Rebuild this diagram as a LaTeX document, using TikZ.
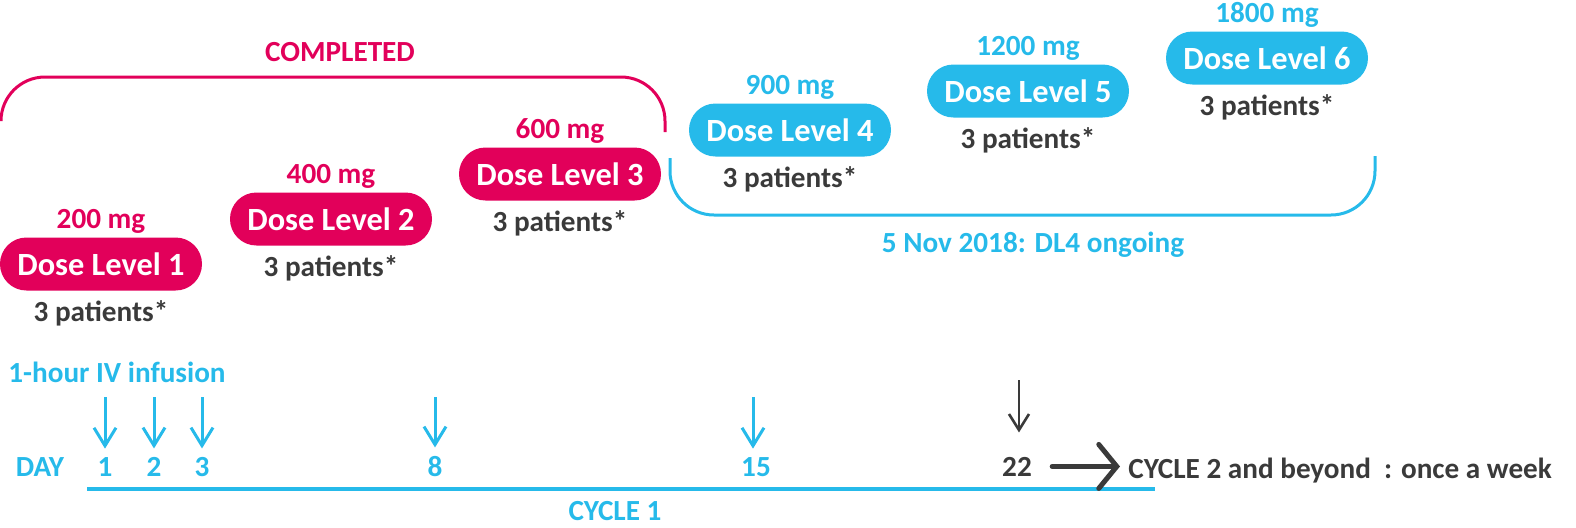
\documentclass[tikz,border=0pt]{standalone}
\usepackage{fontspec}
\setmainfont{Carlito}
\usetikzlibrary{arrows.meta, positioning}
\definecolor{donecolor}{RGB}{226,0,90}
\definecolor{opencolor}{RGB}{38,186,234}
\definecolor{textcolor}{RGB}{58,58,58}
\tikzstyle{donepill} = [rectangle, fill=donecolor, text=white, minimum width=101pt, minimum height=26.5pt, rounded corners=13.2pt, inner sep=0pt, font=\fontsize{16.2}{18}\selectfont\bfseries]
\tikzstyle{openpill} = [donepill, fill=opencolor]
\tikzstyle{plaintext} = [inner sep=0pt, font=\fontsize{14.6}{16}\selectfont\bfseries]
\tikzstyle{infarrow} = [-{Straight Barb[length=9pt, width=11pt]}, opencolor, line width=1.5pt]
\tikzstyle{nextarrow} = [-{Straight Barb[length=8pt, width=10pt]}, textcolor, line width=1.3pt]
\tikzstyle{bigarrow} = [-{Straight Barb[length=9pt, width=22pt, line cap=round]}, textcolor, line width=2.5pt, line cap=round]

\begin{document}
\begin{tikzpicture}[x=0.5pt, y=-0.5pt]
    \useasboundingbox (0,0) rectangle (1576,527);

    % Completed dose levels
    \node[plaintext, donecolor, anchor=base] (done_title) at (340,61) {COMPLETED};
    \draw[donecolor, line width=1.5pt, rounded corners=22pt] (1,118) -- (1,77) -- (665,77) -- (665,132);

    \node[donepill] (dl1) at (101,264) {Dose Level 1};
    \node[donepill] (dl2) at (331,219) {Dose Level 2};
    \node[donepill] (dl3) at (560,174) {Dose Level 3};

    \node[plaintext, donecolor, above=1.5pt of dl1] (mg1) {200 mg};
    \node[plaintext, donecolor, above=1.5pt of dl2] (mg2) {400 mg};
    \node[plaintext, donecolor, above=1.5pt of dl3] (mg3) {600 mg};
    \node[plaintext, textcolor, below=4.5pt of dl1] (pat1) {3 patients*};
    \node[plaintext, textcolor, below=4.5pt of dl2] (pat2) {3 patients*};
    \node[plaintext, textcolor, below=4.5pt of dl3] (pat3) {3 patients*};

    % Ongoing dose levels
    \draw[opencolor, line width=1.5pt, rounded corners=22pt] (670,158) -- (670,215) -- (1375,215) -- (1375,156);
    \node[plaintext, opencolor, anchor=base] (open_title) at (1033,252) {5 Nov 2018: DL4 ongoing};

    \node[openpill] (dl4) at (790,130) {Dose Level 4};
    \node[openpill] (dl5) at (1028,91) {Dose Level 5};
    \node[openpill] (dl6) at (1267,58) {Dose Level 6};

    \node[plaintext, opencolor, above=1.5pt of dl4] (mg4) {900 mg};
    \node[plaintext, opencolor, above=1.5pt of dl5] (mg5) {1200 mg};
    \node[plaintext, opencolor, above=1.5pt of dl6] (mg6) {1800 mg};
    \node[plaintext, textcolor, below=4.5pt of dl4] (pat4) {3 patients*};
    \node[plaintext, textcolor, below=4.5pt of dl5] (pat5) {3 patients*};
    \node[plaintext, textcolor, below=4.5pt of dl6] (pat6) {3 patients*};

    % Schedule
    \node[plaintext, opencolor, anchor=base west] (infusion) at (8,382) {1-hour IV infusion};

    \node[plaintext, opencolor, anchor=base] (day) at (40,476) {DAY};
    \node[plaintext, opencolor, anchor=base] (d1) at (105,476) {1};
    \node[plaintext, opencolor, anchor=base] (d2) at (154,476) {2};
    \node[plaintext, opencolor, anchor=base] (d3) at (202,476) {3};
    \node[plaintext, opencolor, anchor=base] (d8) at (435,476) {8};
    \node[plaintext, opencolor, anchor=base] (d15) at (756,476) {15};
    \node[plaintext, textcolor, anchor=base] (d22) at (1017,476) {22};

    \coordinate (a1) at (105,397);
    \coordinate (a2) at (154,397);
    \coordinate (a3) at (202,397);
    \coordinate (a8) at (435,397);
    \coordinate (a15) at (753,397);
    \coordinate (a22) at (1019,380);

    \draw[infarrow, shorten >=4pt] (a1) -- (d1.north);
    \draw[infarrow, shorten >=4pt] (a2) -- (d2.north);
    \draw[infarrow, shorten >=4pt] (a3) -- (d3.north);
    \draw[infarrow, shorten >=4pt] (a8) -- (d8.north);
    \draw[infarrow, shorten >=4pt] (a15) -- (a15 |- d15.north);
    \draw[nextarrow, shorten >=12pt] (a22) -- (a22 |- d22.north);

    \coordinate (c1s) at (87,489);
    \coordinate (c1e) at (1155,489);
    \draw[opencolor, line width=2pt] (c1s) -- (c1e);
    \node[plaintext, opencolor, anchor=base] (cycle1) at (615,520) {CYCLE 1};

    \node[plaintext, textcolor, anchor=base west] (cycle2) at (1128,478) {CYCLE 2 and beyond\ \ : once a week};
    \draw[bigarrow, shorten <=10pt, shorten >=4pt] (d22.east) -- (d22.east -| cycle2.west);

\end{tikzpicture}
\end{document}
